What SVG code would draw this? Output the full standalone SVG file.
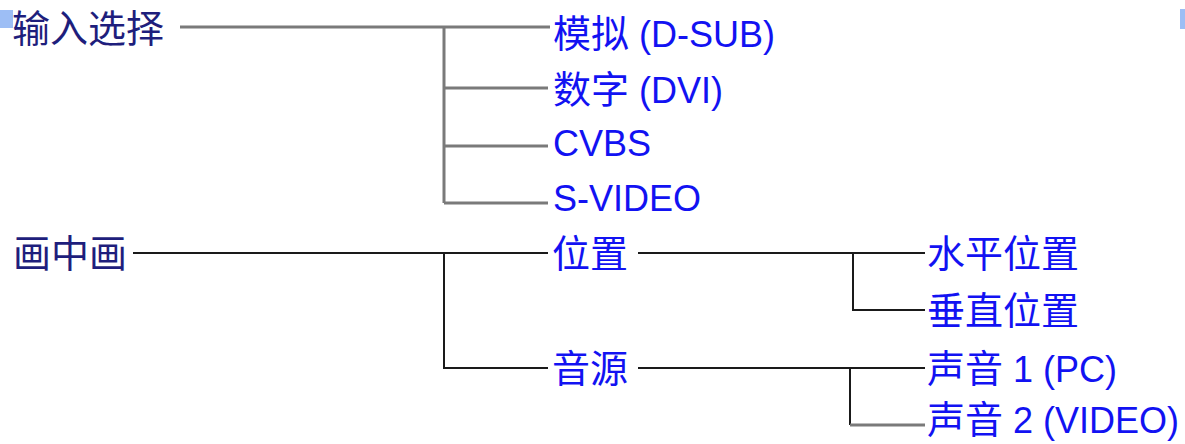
<svg xmlns="http://www.w3.org/2000/svg" width="1185" height="444" viewBox="0 0 1185 444">
<style>
.root{font-family:"Noto Sans CJK SC","Liberation Sans",sans-serif;font-size:38px;fill:#1e1e7c;}
.leaf{font-family:"Liberation Sans","Noto Sans CJK SC",sans-serif;font-size:36px;fill:#1212f2;}
.cj{font-family:"Noto Sans CJK SC",sans-serif;font-size:38px;}
.g1{stroke:#7a7a7a;stroke-width:3;fill:none;}
.g2{stroke:#1a1a1a;stroke-width:2;fill:none;}
.mark{fill:#9dbef5;}
</style>
<rect class="mark" x="0" y="10" width="13" height="18"/>
<rect class="mark" x="1180" y="9" width="5" height="20"/>
<g id="connectors">
  <path class="g1" d="M180 27H550M444 27V203M444 88H548M444 146H548M444 203H548"/>
  <path class="g2" d="M133 253H548M444 253V368H548"/>
  <path class="g2" d="M638 253H925M853 253V310H925"/>
  <path class="g2" d="M638 368H925M850 368V425"/>
  <path class="g1" d="M850 425H925"/>
</g>
<g id="n-input"><text class="root" x="12" y="42">输入选择</text></g>
<g id="n-dsub"><text class="leaf" x="553" y="47"><tspan class="cj">模拟</tspan> (D-SUB)</text></g>
<g id="n-dvi"><text class="leaf" x="553" y="103"><tspan class="cj">数字</tspan> (DVI)</text></g>
<g id="n-cvbs"><text class="leaf" x="553" y="156">CVBS</text></g>
<g id="n-svideo"><text class="leaf" x="553" y="211">S-VIDEO</text></g>
<g id="n-pip"><text class="root" x="13" y="267">画中画</text></g>
<g id="n-pos"><text class="leaf" x="552" y="267"><tspan class="cj">位置</tspan></text></g>
<g id="n-src"><text class="leaf" x="552" y="382"><tspan class="cj">音源</tspan></text></g>
<g id="n-hpos"><text class="leaf" x="927" y="267"><tspan class="cj">水平位置</tspan></text></g>
<g id="n-vpos"><text class="leaf" x="927" y="324"><tspan class="cj">垂直位置</tspan></text></g>
<g id="n-a1"><text class="leaf" x="927" y="382"><tspan class="cj">声音</tspan> 1 (PC)</text></g>
<g id="n-a2"><text class="leaf" x="927" y="433"><tspan class="cj">声音</tspan> 2 (VIDEO)</text></g>
</svg>
